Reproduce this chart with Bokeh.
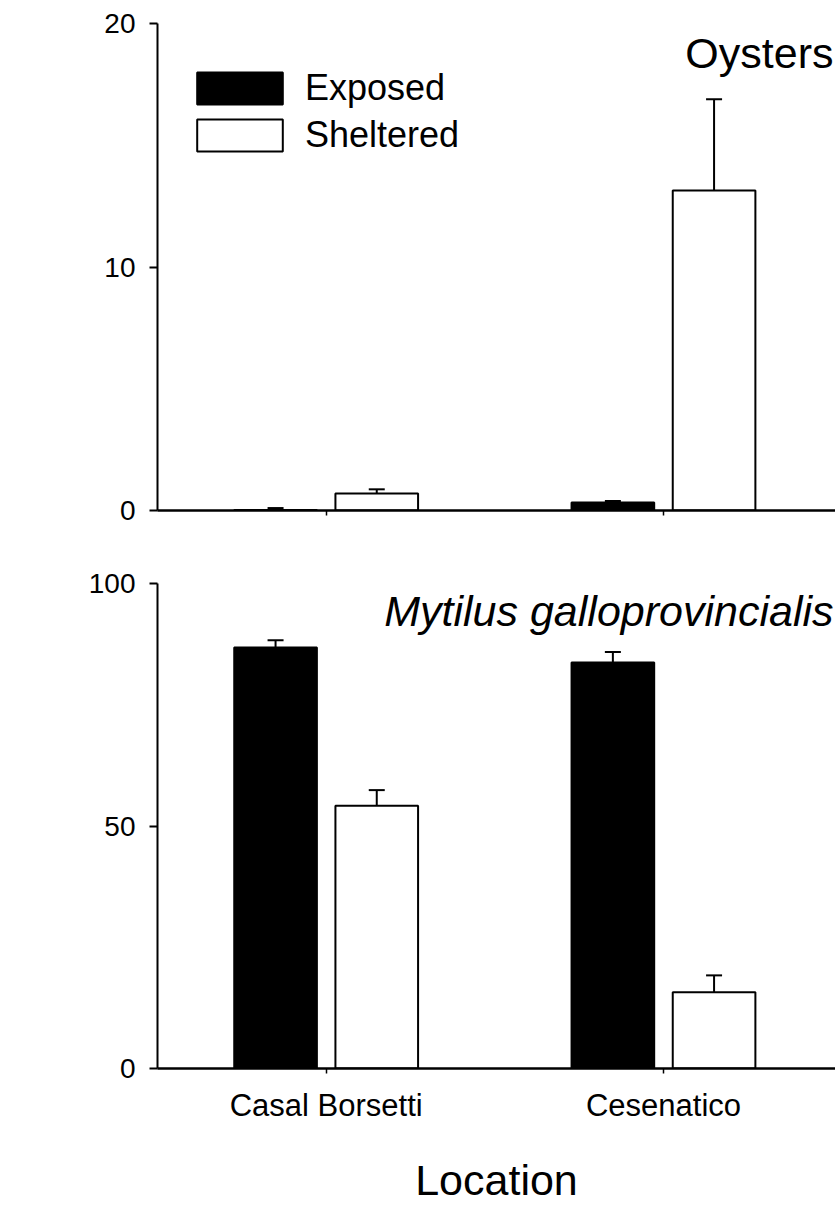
from bokeh.plotting import figure
from bokeh.layouts import column
from bokeh.models import (ColumnDataSource, Range1d, FixedTicker, Whisker, TeeHead,
                          Legend, LegendItem, Label)
from bokeh.embed import file_html
from bokeh.resources import INLINE

# ---------------- data ----------------
locations = ["Casal Borsetti", "Cesenatico"]
series = ["Exposed", "Sheltered"]

oyster_exposed = [0.02, 0.33]
oyster_exposed_se = [0.08, 0.06]
oyster_sheltered = [0.70, 13.14]
oyster_sheltered_se = [0.17, 3.75]

mytilus_exposed = [86.8, 83.7]
mytilus_exposed_se = [1.5, 2.2]
mytilus_sheltered = [54.2, 15.7]
mytilus_sheltered_se = [3.2, 3.5]

oyster_ticks = [0, 10, 20]
mytilus_ticks = [0, 50, 100]

FONT = "Liberation Sans"
group_x = [1 + 2 * i for i in range(len(locations))]
OFFSET = 0.30
BAR_W = 0.49


def make_panel(height, top, bottom, ymax, yticks, exp, exp_se, shel, shel_se,
               title, title_y, italic, show_labels):
    p = figure(width=835, height=height, output_backend="svg", toolbar_location=None,
               x_range=Range1d(0, 4.02), y_range=Range1d(0, ymax),
               min_border_left=157, min_border_right=0,
               min_border_top=top, min_border_bottom=bottom)
    p.outline_line_color = None
    p.xgrid.visible = False
    p.ygrid.visible = False
    p.background_fill_color = "white"
    p.border_fill_color = "white"

    src_e = ColumnDataSource(dict(x=[g - OFFSET for g in group_x], top=exp,
                                  upper=[v + s for v, s in zip(exp, exp_se)]))
    src_s = ColumnDataSource(dict(x=[g + OFFSET for g in group_x], top=shel,
                                  upper=[v + s for v, s in zip(shel, shel_se)]))
    r_e = p.vbar(x="x", top="top", width=BAR_W, bottom=0, source=src_e,
                 fill_color="black", line_color="black", line_width=2)
    r_s = p.vbar(x="x", top="top", width=BAR_W, bottom=0, source=src_s,
                 fill_color="white", line_color="black", line_width=2)
    for src in (src_e, src_s):
        w = Whisker(source=src, base="x", upper="upper", lower="top", dimension="height",
                    line_color="black", line_width=2, lower_head=None,
                    upper_head=TeeHead(size=16, line_width=2, line_color="black"))
        p.add_layout(w)

    # axes
    p.yaxis.ticker = FixedTicker(ticks=yticks)
    p.yaxis.minor_tick_line_color = None
    p.yaxis.major_tick_out = 8
    p.yaxis.major_tick_in = 0
    p.yaxis.major_tick_line_width = 2
    p.yaxis.axis_line_width = 2
    p.yaxis.major_label_text_font = FONT
    p.yaxis.major_label_text_font_size = "28px"
    p.yaxis.major_label_text_color = "black"
    p.yaxis.major_label_standoff = 14

    p.xaxis.ticker = FixedTicker(ticks=group_x)
    p.xaxis.minor_tick_line_color = None
    p.xaxis.major_tick_out = 5
    p.xaxis.major_tick_in = 0
    p.xaxis.major_tick_line_width = 1.5
    p.xaxis.axis_line_width = 2.5
    p.xaxis.major_label_overrides = {g: name for g, name in zip(group_x, locations)}
    p.xaxis.major_label_text_font = FONT
    p.xaxis.major_label_text_color = "black"
    if show_labels:
        p.xaxis.major_label_text_font_size = "31px"
        p.xaxis.major_label_standoff = 14
        p.xaxis.axis_label = "Location"
        p.xaxis.axis_label_text_font = FONT
        p.xaxis.axis_label_text_font_size = "43px"
        p.xaxis.axis_label_text_font_style = "normal"
        p.xaxis.axis_label_text_color = "black"
        p.xaxis.axis_label_standoff = 30
    else:
        p.xaxis.major_label_text_font_size = "0px"
        p.xaxis.major_label_text_color = None

    p.add_layout(Label(x=4.02, y=title_y, text=title, text_align="right",
                       text_baseline="alphabetic", x_offset=-2,
                       text_font=FONT, text_font_size="43px",
                       text_font_style="italic" if italic else "normal",
                       text_color="black"))
    return p, r_e, r_s


p1, e1, s1 = make_panel(550, 23, 40, 20, oyster_ticks, oyster_exposed, oyster_exposed_se,
                        oyster_sheltered, oyster_sheltered_se, "Oysters", 18.8, False, False)
p2, _, _ = make_panel(657, 33, 139, 100, mytilus_ticks, mytilus_exposed, mytilus_exposed_se,
                      mytilus_sheltered, mytilus_sheltered_se, "Mytilus galloprovincialis",
                      94.4, True, True)

legend = Legend(items=[LegendItem(label=series[0], renderers=[e1]),
                       LegendItem(label=series[1], renderers=[s1])],
                location=(29, 354), padding=0, margin=0, spacing=5,
                glyph_width=107, glyph_height=40, label_standoff=12,
                label_text_font=FONT, label_text_font_size="36px",
                label_text_color="black",
                label_text_baseline="middle",
                border_line_color=None, background_fill_alpha=0)
p1.add_layout(legend)

layout = column(p1, p2, spacing=0)
open("out.html", "w").write(file_html(layout, INLINE))
